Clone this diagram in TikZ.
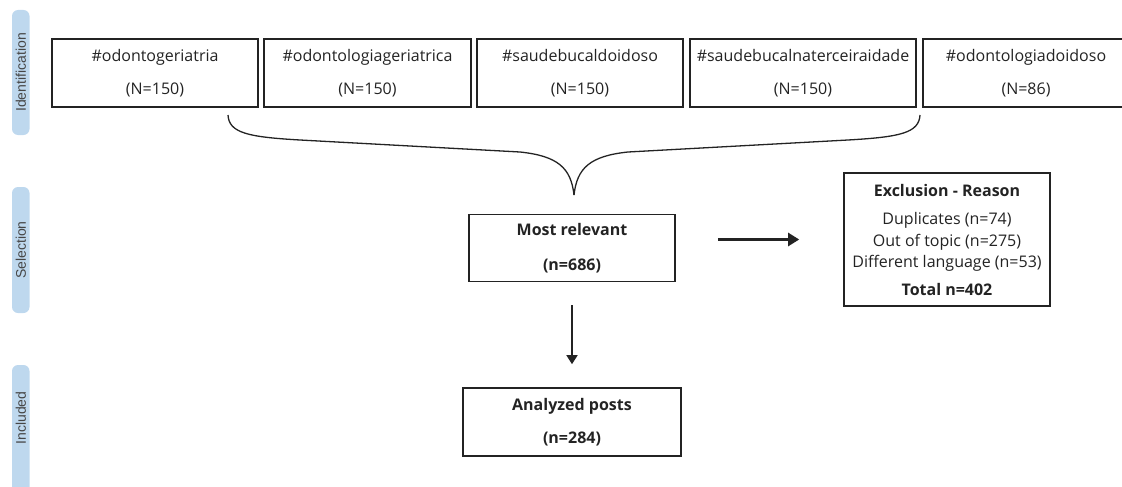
\documentclass[tikz,border=0pt]{standalone}
\usepackage{fontspec}
\setmainfont{Open Sans}
\newfontfamily\tabfont{Liberation Sans}
\usetikzlibrary{arrows.meta}
\definecolor{tabblue}{RGB}{190,216,238}
\definecolor{ink}{RGB}{35,35,35}
\definecolor{tabtext}{RGB}{70,70,70}

\begin{document}
\begin{tikzpicture}[x=1pt, y=-1pt,
    hashbox/.style={draw=ink, line width=1.6pt, minimum height=68pt, inner sep=0pt,
        align=center, text=ink, font=\fontsize{16}{33}\selectfont},
    flowbox/.style={hashbox, font=\bfseries\fontsize{16}{35}\selectfont},
    stagelabel/.style={rotate=90, inner sep=0pt, text=tabtext, font=\tabfont\fontsize{14}{14}\selectfont},
    flowarrow/.style={draw=ink, line width=2.4pt, -{Triangle[length=11pt,width=13pt]}},
    downarrow/.style={draw=ink, line width=1.6pt, -{Triangle[length=9pt,width=11pt]}}]
    \useasboundingbox (0,0) rectangle (1122,487);
    \clip (0,0) rectangle (1122,487);
    % stage tabs
    \fill [tabblue, rounded corners=6pt] (12,10) rectangle (29.5,135);
    \node (labIdent) [stagelabel] at (20.8,72.5) {Identification};
    \fill [tabblue, rounded corners=6pt] (12,187) rectangle (29.5,313);
    \node (labSelect) [stagelabel] at (20.8,250) {Selection};
    \fill [tabblue, rounded corners=6pt] (12,365) rectangle (29.5,500);
    \node (labIncl) [stagelabel] at (20.8,418) {Included};
    % hashtags
    \node (hashA) [hashbox, minimum width=206pt] at (155,73) {\#odontogeriatria\\(N=150)};
    \node (hashB) [hashbox, minimum width=207pt] at (367.5,73) {\#odontologiageriatrica\\(N=150)};
    \node (hashC) [hashbox, minimum width=206pt] at (580,73) {\#saudebucaldoidoso\\(N=150)};
    \node (hashD) [hashbox, minimum width=226pt] at (803,73) {\#saudebucalnaterceiraidade\\(N=150)};
    \node (hashE) [hashbox, minimum width=206pt] at (1026,73) {\#odontologiadoidoso\\(N=86)};
    % brace
    \coordinate (braceL) at (228,115);
    \coordinate (braceR) at (920,115);
    \coordinate (braceTip) at (574,195);
    \draw [ink, line width=1.3pt] (braceL) .. controls (229,133) and (248,137) .. (300,140)
        -- (520,152) .. controls (558,156) and (571,168) .. (braceTip);
    \draw [ink, line width=1.3pt] (braceR) .. controls (919,133) and (900,137) .. (848,140)
        -- (628,152) .. controls (590,156) and (577,168) .. (braceTip);
    % flow
    \node (mostRel) [flowbox, minimum width=206pt, minimum height=67pt] at (572,248) {Most relevant\\(n=686)};
    \node (analyzed) [flowbox, minimum width=218pt, font=\bfseries\fontsize{16}{33}\selectfont] at (572,422) {Analyzed posts\\(n=284)};
    \node (exclusion) [hashbox, minimum width=206pt, minimum height=133pt,
        font=\fontsize{16}{21.5}\selectfont] at (947,239.5)
        {\textbf{Exclusion - Reason}\\[7pt]Duplicates (n=74)\\Out of topic (n=275)\\Different language (n=53)\\[6pt]\textbf{Total n=402}};
    \draw [flowarrow, shorten <=42pt, shorten >=44pt] (mostRel.east |- exclusion.west) -- (exclusion.west);
    \draw [downarrow, shorten <=23pt, shorten >=23pt] (mostRel.south) -- (analyzed.north);
\end{tikzpicture}
\end{document}
